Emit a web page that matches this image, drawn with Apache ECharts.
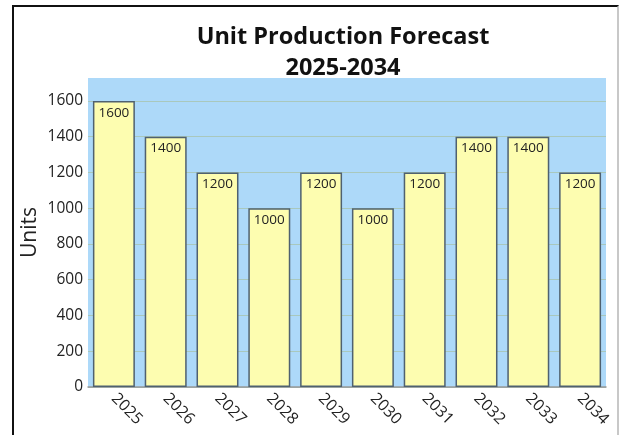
<!DOCTYPE html>
<html><head><meta charset="utf-8">
<script src="https://cdn.jsdelivr.net/npm/echarts@6/dist/echarts.min.js"></script>
<style>
html,body{margin:0;padding:0;background:#fff;}
#c{position:absolute;left:0;top:0;width:620px;height:435px;}
#frame{position:absolute;left:12px;top:5px;width:603px;height:460px;border-left:2.5px solid #111;border-top:2.5px solid #111;border-right:2px solid #c8c8c8;pointer-events:none;}
</style></head>
<body>
<div id="c"></div>
<div id="frame"></div>
<script>
const categories = ['2025','2026','2027','2028','2029','2030','2031','2032','2033','2034'];
const units = [1600,1400,1200,1000,1200,1000,1200,1400,1400,1200];
const titleText = 'Unit Production Forecast\n2025-2034';
const yAxisName = 'Units';

const chart = echarts.init(document.getElementById('c'), null, {renderer:'canvas'});
chart.setOption({
  animation:false,
  textStyle:{fontFamily:'Open Sans'},
  title:{
    text:titleText, left:338, top:17, textAlign:'center',
    textStyle:{fontFamily:'Open Sans', fontWeight:'bold', fontSize:23.5, color:'#111', lineHeight:31}
  },
  grid:{left:88, right:14, top:78, bottom:48, show:true, backgroundColor:'#add9f9', borderWidth:0},
  xAxis:{
    type:'category', data:categories,
    axisLine:{show:true, lineStyle:{color:'#999', width:1.5}},
    axisTick:{show:false},
    axisLabel:{rotate:-45, fontSize:16, color:'#222', margin:9, fontFamily:'Open Sans'}
  },
  yAxis:{
    type:'value', min:0, max:1728, interval:200,
    name:yAxisName, nameLocation:'middle', nameGap:47, nameMoveOverlap:false,
    nameTextStyle:{fontSize:21, color:'#222', fontFamily:'Open Sans'},
    axisLine:{show:false}, axisTick:{show:false},
    axisLabel:{fontSize:15.5, color:'#222', margin:5, showMaxLabel:false, fontFamily:'Open Sans',
      formatter:function(v){return String(v);}},
    splitLine:{show:true, showMaxLine:false, lineStyle:{color:'#a9c8bd', width:1.2}}
  },
  series:[{
    type:'bar', data:units, barWidth:'81%',
    itemStyle:{color:'#fdfdb0', borderColor:'#4f6170', borderWidth:1.5},
    label:{show:true, position:'insideTop', distance:5, fontSize:13.5, color:'#222', fontFamily:'Open Sans'}
  }]
});
</script>
</body></html>
